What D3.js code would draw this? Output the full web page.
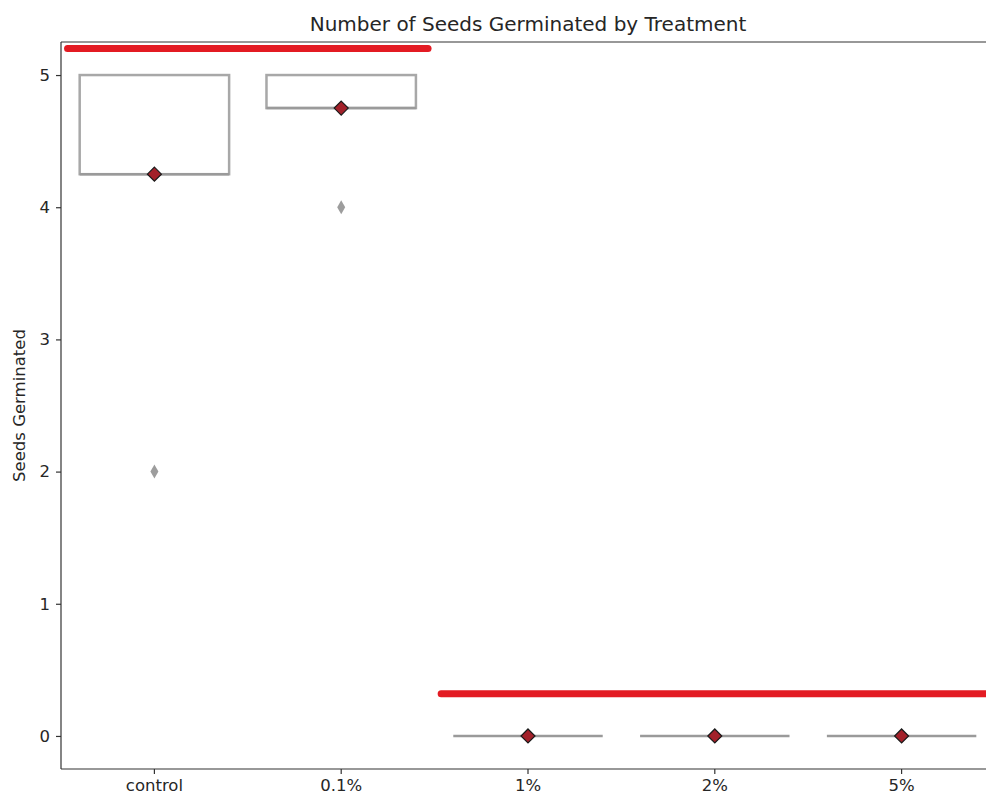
<!DOCTYPE html>
<html>
<head>
<meta charset="utf-8">
<script src="https://cdn.jsdelivr.net/npm/d3@7"></script>
<style>
  body { margin: 0; background: #fff; }
  text { font-family: "DejaVu Sans", sans-serif; fill: #262626; }
</style>
</head>
<body>
<div id="chart"></div>
<script>
// data
var categories = ["control", "0.1%", "1%", "2%", "5%"];
var q1 = [4.25, 4.75, 0, 0, 0];
var medians = [4.25, 4.75, 0, 0, 0];
var q3 = [5, 5, 0, 0, 0];
var whiskLo = [4.25, 4.75, 0, 0, 0];
var whiskHi = [5, 5, 0, 0, 0];
var means = [4.25, 4.75, 0, 0, 0];
var outliers = [[2], [4], [], [], []];
var yTicks = [0, 1, 2, 3, 4, 5];
// significance groups: level, first and last category
var groupLevel = [5.2, 0.32];
var groupFrom = ["control", "1%"];
var groupTo = ["0.1%", "5%"];

var W = 986, H = 797;
var mLeft = 61, mRight = 995, mTop = 42, mBottom = 769;

var svg = d3.select("#chart").append("svg")
    .attr("width", W)
    .attr("height", H);

var x = d3.scaleBand().domain(categories).range([mLeft, mRight]).padding(0);
var y = d3.scaleLinear().domain([-0.25, 5.25]).range([mBottom, mTop]);
var step = x.step();
var bw = step * 0.8;
function cx(c) { return x(c) + x.bandwidth() / 2; }

var boxColor = "#a8a8a8";

// boxes
var g = svg.append("g");
categories.forEach(function(c, i) {
    var x0 = cx(c) - bw / 2;
    // whiskers
    g.append("line")
        .attr("x1", cx(c)).attr("x2", cx(c))
        .attr("y1", y(whiskLo[i])).attr("y2", y(q1[i]))
        .attr("stroke", boxColor).attr("stroke-width", 2.5);
    g.append("line")
        .attr("x1", cx(c)).attr("x2", cx(c))
        .attr("y1", y(q3[i])).attr("y2", y(whiskHi[i]))
        .attr("stroke", boxColor).attr("stroke-width", 2.5);
    if (q3[i] > q1[i]) {
        g.append("rect")
            .attr("x", x0).attr("y", y(q3[i]))
            .attr("width", bw).attr("height", y(q1[i]) - y(q3[i]))
            .attr("fill", "#fff")
            .attr("stroke", boxColor).attr("stroke-width", 2.5);
    }
    // median
    g.append("line")
        .attr("x1", x0).attr("x2", x0 + bw)
        .attr("y1", y(medians[i])).attr("y2", y(medians[i]))
        .attr("stroke", "#9a9a9a").attr("stroke-width", 2.5);
    // outliers
    outliers[i].forEach(function(v) {
        g.append("path")
            .attr("d", "M0,-7L4,0L0,7L-4,0Z")
            .attr("transform", "translate(" + cx(c) + "," + y(v) + ")")
            .attr("fill", "#9d9d9d");
    });
    // mean marker
    g.append("path")
        .attr("d", "M0,-7L7,0L0,7L-7,0Z")
        .attr("transform", "translate(" + cx(c) + "," + y(means[i]) + ")")
        .attr("fill", "#a3212a")
        .attr("stroke", "#1a1a1a").attr("stroke-width", 1.2);
});

// significance bars
groupLevel.forEach(function(v, i) {
    svg.append("line")
        .attr("x1", cx(groupFrom[i]) - step * 0.465)
        .attr("x2", cx(groupTo[i]) + step * 0.465)
        .attr("y1", y(v)).attr("y2", y(v))
        .attr("stroke", "#e31b23")
        .attr("stroke-width", 7)
        .attr("stroke-linecap", "round");
});

// axes
var yAxis = d3.axisLeft(y).tickValues(yTicks).tickFormat(d3.format("d")).tickSize(5).tickPadding(6);
var ya = svg.append("g").attr("transform", "translate(" + mLeft + ",0)").call(yAxis);
ya.select(".domain").remove();
ya.selectAll("line").attr("stroke", "#333").attr("stroke-width", 1.2);
ya.selectAll("text").attr("font-size", "16.5px").attr("fill", "#262626");

var xAxis = d3.axisBottom(x).tickSize(5).tickPadding(5);
var xa = svg.append("g").attr("transform", "translate(0," + mBottom + ")").call(xAxis);
xa.select(".domain").remove();
xa.selectAll("line").attr("stroke", "#333").attr("stroke-width", 1.2);
xa.selectAll("text").attr("font-size", "16.5px").attr("fill", "#262626");

// spines
svg.append("line").attr("x1", mLeft).attr("x2", mLeft).attr("y1", mTop).attr("y2", mBottom)
    .attr("stroke", "#333").attr("stroke-width", 1.2);
svg.append("line").attr("x1", mLeft).attr("x2", mRight).attr("y1", mBottom).attr("y2", mBottom)
    .attr("stroke", "#333").attr("stroke-width", 1.2);
svg.append("line").attr("x1", mLeft).attr("x2", mRight).attr("y1", mTop).attr("y2", mTop)
    .attr("stroke", "#333").attr("stroke-width", 1.2);
svg.append("line").attr("x1", mRight).attr("x2", mRight).attr("y1", mTop).attr("y2", mBottom)
    .attr("stroke", "#333").attr("stroke-width", 1.2);

// title and label
svg.append("text")
    .attr("x", (mLeft + mRight) / 2).attr("y", 31)
    .attr("text-anchor", "middle")
    .attr("font-size", "20px")
    .text("Number of Seeds Germinated by Treatment");

svg.append("text")
    .attr("transform", "translate(25," + ((mTop + mBottom) / 2) + ") rotate(-90)")
    .attr("text-anchor", "middle")
    .attr("font-size", "16.5px")
    .text("Seeds Germinated");
</script>
</body>
</html>
